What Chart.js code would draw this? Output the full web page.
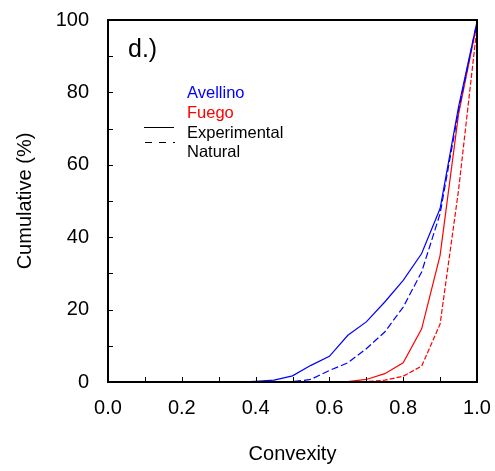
<!DOCTYPE html>
<html>
<head>
<meta charset="utf-8">
<script src="https://cdn.jsdelivr.net/npm/chart.js@4"></script>
<style>
  html, body { margin: 0; padding: 0; background: #fff; }
  #wrap { width: 495px; height: 471px; }
</style>
</head>
<body>
<div id="wrap"><canvas id="myChart" width="495" height="471"></canvas></div>
<script>
// convexity bins
var convexity = [0.35, 0.40, 0.45, 0.50, 0.55, 0.60, 0.65, 0.70, 0.75, 0.80, 0.85, 0.90, 0.95, 1.00];
// cumulative % per bin (null = not yet started)
var avellinoExp = [0, 0.2, 0.5, 1.7, 4.6, 7.1, 12.9, 16.6, 22.1, 28.1, 35.5, 47.9, 76, 99.5];
var avellinoNat = [null, null, 0, 0.1, 0.7, 3.2, 5.3, 9.2, 13.8, 20.7, 30.4, 46.5, 75, 99.5];
var fuegoExp = [null, null, null, null, null, 0, 0.1, 0.7, 2.3, 5.3, 14.7, 35, 74, 99];
var fuegoNat = [null, null, null, null, null, null, 0, 0.1, 0.5, 1.6, 4.4, 16, 53, 98];

var xTickLabels = ['0.0', '0.2', '0.4', '0.6', '0.8', '1.0'];
var yTickLabels = ['0', '20', '40', '60', '80', '100'];

var legendNames = ['Avellino', 'Fuego', 'Experimental', 'Natural'];
var panelLabel = 'd.)';

function toPoints(xs, ys) {
  var a = [];
  for (var i = 0; i < xs.length; i++) {
    if (ys[i] !== null) a.push({x: xs[i], y: ys[i]});
  }
  return a;
}

var FONT = 'Liberation Sans, Arial, sans-serif';

// frame + inward ticks + panel label + legend
var decor = {
  id: 'decor',
  afterDraw: function(chart) {
    var c = chart.ctx, a = chart.chartArea;
    var xs = chart.scales.x, ys = chart.scales.y;
    c.save();
    c.strokeStyle = '#000';
    c.lineWidth = 1;
    xs.ticks.forEach(function(t) {
      var px = Math.round(xs.getPixelForValue(t.value)) + 0.5;
      c.beginPath(); c.moveTo(px, a.bottom); c.lineTo(px, a.bottom - 5); c.stroke();
    });
    ys.ticks.forEach(function(t) {
      var py = Math.round(ys.getPixelForValue(t.value)) + 0.5;
      c.beginPath(); c.moveTo(a.left, py); c.lineTo(a.left + 5, py); c.stroke();
    });
    c.lineWidth = 2;
    c.strokeRect(a.left, a.top, a.right - a.left, a.bottom - a.top);

    c.fillStyle = '#000';
    c.textBaseline = 'middle';
    c.textAlign = 'left';
    c.font = '25px ' + FONT;
    c.fillText(panelLabel, 128, 50);

    c.font = '16.5px ' + FONT;
    c.fillStyle = 'rgb(0,0,255)';
    c.fillText(legendNames[0], 187, 93);
    c.fillStyle = 'rgb(255,0,0)';
    c.fillText(legendNames[1], 187, 113);
    c.fillStyle = '#000';
    c.fillText(legendNames[2], 187, 133);
    c.fillText(legendNames[3], 187, 152);

    c.lineWidth = 1;
    c.beginPath(); c.moveTo(144, 127.5); c.lineTo(174, 127.5); c.stroke();
    c.setLineDash([7, 7]);
    c.beginPath(); c.moveTo(145, 142.5); c.lineTo(175, 142.5); c.stroke();
    c.restore();
  }
};

var ctx = document.getElementById('myChart').getContext('2d');
var chart = new Chart(ctx, {
  type: 'line',
  data: {
    datasets: [{
      label: 'Avellino Experimental',
      data: toPoints(convexity, avellinoExp),
      borderColor: 'rgb(0,0,255)',
      borderWidth: 1.2
    }, {
      label: 'Avellino Natural',
      data: toPoints(convexity, avellinoNat),
      borderColor: 'rgb(0,0,255)',
      borderWidth: 1.2,
      borderDash: [7, 3]
    }, {
      label: 'Fuego Experimental',
      data: toPoints(convexity, fuegoExp),
      borderColor: 'rgb(255,0,0)',
      borderWidth: 1.2
    }, {
      label: 'Fuego Natural',
      data: toPoints(convexity, fuegoNat),
      borderColor: 'rgb(255,0,0)',
      borderWidth: 1.2,
      borderDash: [5, 2]
    }]
  },
  options: {
    responsive: false,
    animation: false,
    events: [],
    pointRadius: 0,
    layout: { padding: { top: 20, right: 18, left: 0, bottom: 0 } },
    scales: {
      x: {
        type: 'linear',
        min: 0,
        max: 1,
        border: { display: false },
        grid: { display: false, drawTicks: false },
        afterFit: function(s) { s.height = 89; s.paddingLeft = 0; s.paddingRight = 0; },
        title: {
          display: true,
          text: 'Convexity',
          color: '#000',
          font: { size: 20, family: FONT },
          padding: { top: 5, bottom: 5 }
        },
        ticks: {
          stepSize: 0.1,
          autoSkip: false,
          maxRotation: 0,
          padding: 14,
          color: '#000',
          font: { size: 20, family: FONT },
          callback: function(value) {
            var k = Math.round(value * 10);
            return k % 2 === 0 ? xTickLabels[k / 2] : '';
          }
        }
      },
      y: {
        type: 'linear',
        min: 0,
        max: 100,
        border: { display: false },
        grid: { display: false, drawTicks: false },
        afterFit: function(s) { s.width = 108; s.paddingTop = 0; s.paddingBottom = 0; },
        title: {
          display: true,
          text: 'Cumulative (%)',
          color: '#000',
          font: { size: 20, family: FONT },
          padding: { top: 13, bottom: 13 }
        },
        ticks: {
          stepSize: 10,
          autoSkip: false,
          padding: 19,
          color: '#000',
          font: { size: 20, family: FONT },
          callback: function(value) {
            var k = Math.round(value / 10);
            return k % 2 === 0 ? yTickLabels[k / 2] : '';
          }
        }
      }
    },
    plugins: {
      legend: { display: false },
      tooltip: { enabled: false }
    }
  },
  plugins: [decor]
});
</script>
</body>
</html>
